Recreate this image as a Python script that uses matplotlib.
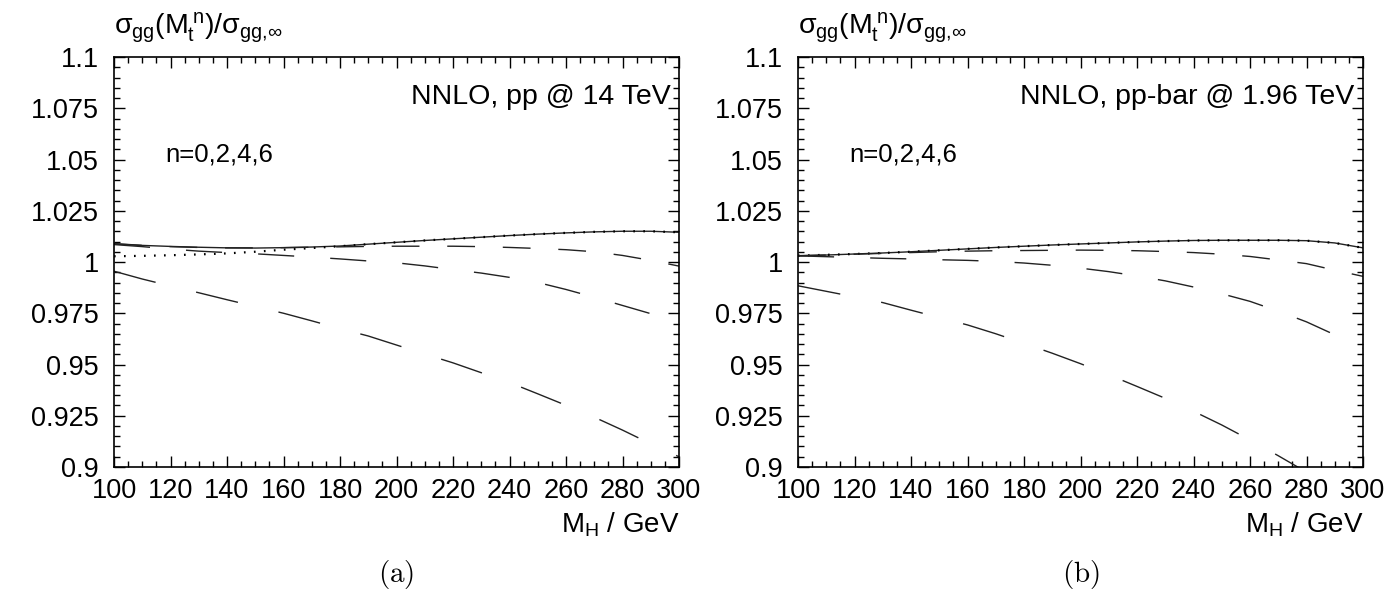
import matplotlib
matplotlib.use('Agg')
import matplotlib.pyplot as plt
from matplotlib.ticker import MultipleLocator

plt.rcParams['font.family'] = ['Liberation Sans', 'DejaVu Sans']
plt.rcParams['mathtext.fontset'] = 'custom'
plt.rcParams['mathtext.rm'] = 'Liberation Sans'
plt.rcParams['mathtext.it'] = 'Liberation Sans'
plt.rcParams['mathtext.bf'] = 'Liberation Sans:bold'
plt.rcParams['mathtext.fallback'] = 'stixsans'
plt.rcParams['lines.scale_dashes'] = False

# Higgs mass grid (GeV)
mh = [100, 110, 120, 130, 140, 150, 160, 170, 180, 190, 200,
      210, 220, 230, 240, 250, 260, 270, 280, 290, 300]

# (a) pp @ 14 TeV
a_dot = [1.0028, 1.0030, 1.0033, 1.0037, 1.0042, 1.0050, 1.0060, 1.0068, 1.0077, 1.0087, 1.0096,
         1.0105, 1.0113, 1.0121, 1.0129, 1.0136, 1.0142, 1.0147, 1.0150, 1.0150, 1.0145]
a_solid = [1.0090, 1.0081, 1.0076, 1.0072, 1.0069, 1.0068, 1.0070, 1.0073, 1.0078, 1.0087, 1.0096,
           1.0105, 1.0113, 1.0121, 1.0129, 1.0136, 1.0142, 1.0147, 1.0150, 1.0150, 1.0145]
a_dash1 = [1.0088, 1.0081, 1.0075, 1.0071, 1.0069, 1.0069, 1.0070, 1.0072, 1.0074, 1.0076, 1.0077,
           1.0077, 1.0077, 1.0075, 1.0071, 1.0066, 1.0060, 1.0050, 1.0032, 1.0008, 0.9980]
a_dash2 = [1.0085, 1.0075, 1.0063, 1.0053, 1.0046, 1.0040, 1.0032, 1.0024, 1.0015, 1.0005, 0.9996,
           0.9981, 0.9963, 0.9946, 0.9925, 0.9900, 0.9866, 0.9828, 0.9788, 0.9748, 0.9700]
a_dash3 = [0.9955, 0.9917, 0.9883, 0.9850, 0.9816, 0.9783, 0.9750, 0.9713, 0.9675, 0.9639, 0.9595,
           0.9551, 0.9508, 0.9460, 0.9412, 0.9357, 0.9301, 0.9243, 0.9180, 0.9113, 0.9050]

# (b) pp-bar @ 1.96 TeV
b_dot = [1.0031, 1.0035, 1.0039, 1.0044, 1.0050, 1.0057, 1.0064, 1.0071, 1.0077, 1.0083, 1.0088,
         1.0093, 1.0098, 1.0102, 1.0105, 1.0106, 1.0106, 1.0106, 1.0104, 1.0093, 1.0069]
b_solid = [1.0030, 1.0034, 1.0039, 1.0044, 1.0050, 1.0057, 1.0064, 1.0071, 1.0077, 1.0083, 1.0088,
           1.0093, 1.0098, 1.0102, 1.0105, 1.0106, 1.0106, 1.0106, 1.0104, 1.0093, 1.0069]
b_dash1 = [1.0031, 1.0034, 1.0038, 1.0042, 1.0046, 1.0050, 1.0053, 1.0055, 1.0056, 1.0057, 1.0058,
           1.0057, 1.0055, 1.0051, 1.0046, 1.0038, 1.0027, 1.0010, 0.9992, 0.9960, 0.9930]
b_dash2 = [1.0030, 1.0026, 1.0022, 1.0018, 1.0015, 1.0011, 1.0008, 1.0003, 0.9995, 0.9984, 0.9970,
           0.9953, 0.9932, 0.9908, 0.9878, 0.9845, 0.9808, 0.9760, 0.9708, 0.9645, 0.9580]
b_dash3 = [0.9884, 0.9857, 0.9830, 0.9802, 0.9765, 0.9729, 0.9693, 0.9650, 0.9603, 0.9555, 0.9504,
           0.9450, 0.9393, 0.9335, 0.9272, 0.9205, 0.9132, 0.9055, 0.8975, 0.8890, 0.8800]

yticks = [0.9, 0.925, 0.95, 0.975, 1.0, 1.025, 1.05, 1.075, 1.1]
ylabels = ['0.9', '0.925', '0.95', '0.975', '1', '1.025', '1.05', '1.075', '1.1']
xticks = [100, 120, 140, 160, 180, 200, 220, 240, 260, 280, 300]

panels = [
    ('NNLO, pp @ 14 TeV', '(a)', a_dot, a_solid, a_dash1, a_dash2, a_dash3),
    ('NNLO, pp-bar @ 1.96 TeV', '(b)', b_dot, b_solid, b_dash1, b_dash2, b_dash3),
]

fig = plt.figure(figsize=(13.9, 5.98), dpi=100)
lefts = [114/1390, 798/1390]
lc = '#222222'

for left, (title, tag, dot, solid, d1, d2, d3) in zip(lefts, panels):
    ax = fig.add_axes([left, 131/598, 565/1390, 410/598])
    ax.plot(mh, solid, color=lc, lw=1.0)
    ax.plot(mh, dot, color='black', lw=1.6, linestyle=(0, (1.2, 6.0)))
    ax.plot(mh, d1, color=lc, lw=1.0, linestyle=(0, (20, 20)))
    ax.plot(mh, d2, color=lc, lw=1.0, linestyle=(0, (26, 26)))
    ax.plot(mh, d3, color=lc, lw=1.0, linestyle=(0, (31, 30)))

    ax.set_xlim(100, 300)
    ax.set_ylim(0.9, 1.1)
    ax.set_xticks(xticks)
    ax.set_xticklabels([str(v) for v in xticks])
    ax.set_yticks(yticks)
    ax.set_yticklabels(ylabels)
    ax.xaxis.set_minor_locator(MultipleLocator(5))
    ax.yaxis.set_minor_locator(MultipleLocator(0.005))
    ax.tick_params(which='both', direction='in', top=True, right=True, width=1.0)
    ax.tick_params(which='major', length=8, labelsize=19.5)
    ax.tick_params(axis='y', which='major', pad=11)
    ax.tick_params(axis='x', which='major', pad=8)
    ax.tick_params(which='minor', length=4)
    for sp in ax.spines.values():
        sp.set_linewidth(1.2)

    ax.text(0.985, 0.902, title, transform=ax.transAxes, ha='right', va='center', fontsize=20.5)
    ax.text(0.09, 0.761, 'n=0,2,4,6', transform=ax.transAxes, ha='left', va='center', fontsize=18.5)
    ax.text(0.0, 1.07, r'$\sigma_{gg}(M_t^{\,n})/\sigma_{gg,\!\infty}$', transform=ax.transAxes,
            ha='left', va='center', fontsize=20.5)
    ax.text(1.0, -0.142, r'$M_H$ / GeV', transform=ax.transAxes, ha='right', va='center', fontsize=20)
    ax.text(0.5, -0.263, r'$\mathrm{' + tag + '}$', transform=ax.transAxes, ha='center', va='center',
            fontsize=21, math_fontfamily='cm')

fig.savefig('out.png', dpi=100)
